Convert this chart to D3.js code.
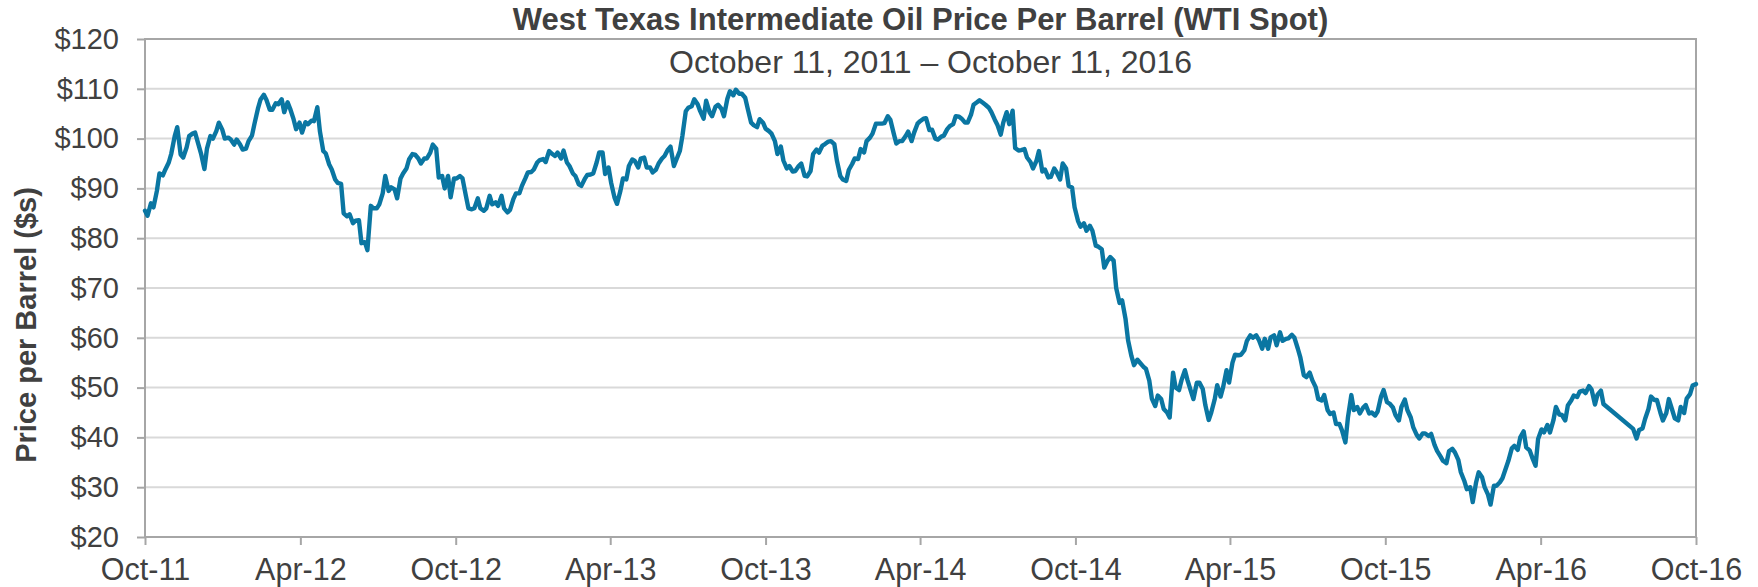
<!DOCTYPE html>
<html>
<head>
<meta charset="utf-8">
<script src="https://cdn.jsdelivr.net/npm/d3@7"></script>
<style>
  body { margin: 0; background: #fff; }
  text { font-family: "Liberation Sans", Arial, sans-serif; fill: #404040; }
</style>
</head>
<body>
<div class="wti_chart"></div>
<script>
// WTI spot price: one value for each Tuesday and one for the Friday after it.
// null = no quote in the source (summer 2016 gap is drawn straight across)
var weekStarts = [
  "2011-10-11","2011-10-18","2011-10-25","2011-11-01","2011-11-08","2011-11-15","2011-11-22","2011-11-29","2011-12-06","2011-12-13","2011-12-20","2011-12-27",
  "2012-01-03","2012-01-10","2012-01-17","2012-01-24","2012-01-31","2012-02-07","2012-02-14","2012-02-21","2012-02-28","2012-03-06","2012-03-13","2012-03-20","2012-03-27",
  "2012-04-03","2012-04-10","2012-04-17","2012-04-24","2012-05-01","2012-05-08","2012-05-15","2012-05-22","2012-05-29","2012-06-05","2012-06-12","2012-06-19","2012-06-26",
  "2012-07-03","2012-07-10","2012-07-17","2012-07-24","2012-07-31","2012-08-07","2012-08-14","2012-08-21","2012-08-28","2012-09-04","2012-09-11","2012-09-18","2012-09-25",
  "2012-10-02","2012-10-09","2012-10-16","2012-10-23","2012-10-30","2012-11-06","2012-11-13","2012-11-20","2012-11-27","2012-12-04","2012-12-11","2012-12-18","2012-12-25",
  "2013-01-01","2013-01-08","2013-01-15","2013-01-22","2013-01-29","2013-02-05","2013-02-12","2013-02-19","2013-02-26","2013-03-05","2013-03-12","2013-03-19","2013-03-26",
  "2013-04-02","2013-04-09","2013-04-16","2013-04-23","2013-04-30","2013-05-07","2013-05-14","2013-05-21","2013-05-28","2013-06-04","2013-06-11","2013-06-18","2013-06-25",
  "2013-07-02","2013-07-09","2013-07-16","2013-07-23","2013-07-30","2013-08-06","2013-08-13","2013-08-20","2013-08-27","2013-09-03","2013-09-10","2013-09-17","2013-09-24",
  "2013-10-01","2013-10-08","2013-10-15","2013-10-22","2013-10-29","2013-11-05","2013-11-12","2013-11-19","2013-11-26","2013-12-03","2013-12-10","2013-12-17","2013-12-24","2013-12-31",
  "2014-01-07","2014-01-14","2014-01-21","2014-01-28","2014-02-04","2014-02-11","2014-02-18","2014-02-25","2014-03-04","2014-03-11","2014-03-18","2014-03-25",
  "2014-04-01","2014-04-08","2014-04-15","2014-04-22","2014-04-29","2014-05-06","2014-05-13","2014-05-20","2014-05-27","2014-06-03","2014-06-10","2014-06-17","2014-06-24",
  "2014-07-01","2014-07-08","2014-07-15","2014-07-22","2014-07-29","2014-08-05","2014-08-12","2014-08-19","2014-08-26","2014-09-02","2014-09-09","2014-09-16","2014-09-23","2014-09-30",
  "2014-10-07","2014-10-14","2014-10-21","2014-10-28","2014-11-04","2014-11-11","2014-11-18","2014-11-25","2014-12-02","2014-12-09","2014-12-16","2014-12-23","2014-12-30",
  "2015-01-06","2015-01-13","2015-01-20","2015-01-27","2015-02-03","2015-02-10","2015-02-17","2015-02-24","2015-03-03","2015-03-10","2015-03-17","2015-03-24","2015-03-31",
  "2015-04-07","2015-04-14","2015-04-21","2015-04-28","2015-05-05","2015-05-12","2015-05-19","2015-05-26","2015-06-02","2015-06-09","2015-06-16","2015-06-23","2015-06-30",
  "2015-07-07","2015-07-14","2015-07-21","2015-07-28","2015-08-04","2015-08-11","2015-08-18","2015-08-25","2015-09-01","2015-09-08","2015-09-15","2015-09-22","2015-09-29",
  "2015-10-06","2015-10-13","2015-10-20","2015-10-27","2015-11-03","2015-11-10","2015-11-17","2015-11-24","2015-12-01","2015-12-08","2015-12-15","2015-12-22","2015-12-29",
  "2016-01-05","2016-01-12","2016-01-19","2016-01-26","2016-02-02","2016-02-09","2016-02-16","2016-02-23","2016-03-01","2016-03-08","2016-03-15","2016-03-22","2016-03-29",
  "2016-04-05","2016-04-12","2016-04-19","2016-04-26","2016-05-03","2016-05-10","2016-05-17","2016-05-24","2016-05-31","2016-06-07","2016-06-14","2016-06-21","2016-06-28",
  "2016-07-05","2016-07-12","2016-07-19","2016-07-26","2016-08-02","2016-08-09","2016-08-16","2016-08-23","2016-08-30","2016-09-06","2016-09-13","2016-09-20","2016-09-27",
  "2016-10-04","2016-10-11"
];
var tueClose = [
  85.5,87.0,89.5,92.6,95.2,100.5,96.8,98.2,101.0,98.8,93.9,100.5,
  101.5,101.8,100.2,98.8,98.8,98.0,100.6,106.0,108.8,105.8,107.1,107.9,107.3,
  103.9,103.2,103.3,103.6,106.3,97.5,94.8,91.8,90.9,84.4,83.0,83.6,79.2,
  86.5,86.0,89.0,89.5,89.8,92.0,94.0,96.9,96.0,96.0,97.2,98.0,92.5,
  92.5,92.0,92.5,88.5,85.8,88.0,85.5,88.5,87.2,88.5,85.2,87.9,89.0,
  92.0,93.3,95.2,95.9,97.5,96.5,96.0,95.2,93.0,90.8,91.9,92.8,95.2,
  97.2,94.2,88.2,89.5,91.8,95.8,94.2,96.2,94.2,93.8,96.0,97.8,94.5,
  97.5,105.5,106.5,106.9,104.0,105.3,106.4,106.0,108.0,108.7,109.0,108.2,103.2,
  102.3,103.2,101.5,99.5,98.4,94.0,93.4,94.5,92.5,93.5,97.8,98.6,99.4,98.9,
  92.5,91.5,94.9,95.9,97.2,100.2,103.0,103.0,104.5,101.0,99.5,100.5,
  99.5,103.0,104.0,101.7,100.0,100.4,101.9,102.9,104.4,103.2,104.8,107.3,107.2,
  106.2,103.8,100.8,105.3,105.6,97.6,97.9,95.3,95.5,93.4,92.2,94.0,91.8,94.0,
  90.2,83.5,83.0,82.5,78.5,77.8,75.5,75.5,67.0,63.8,56.3,55.6,54.2,
  51.4,46.3,47.7,45.0,53.0,49.5,53.5,49.3,51.0,49.7,43.5,47.6,48.2,
  53.5,55.0,56.5,57.5,60.5,60.5,57.8,57.8,60.5,61.1,59.8,60.6,57.8,
  52.5,53.0,50.1,47.4,45.5,45.0,42.7,39.0,48.5,46.1,46.0,44.8,44.4,
  48.2,47.1,46.0,43.4,47.6,44.0,40.5,40.8,40.3,38.5,36.2,34.8,37.7,
  35.5,31.3,30.0,31.0,32.0,28.5,30.3,31.0,33.8,37.8,37.5,41.2,37.4,
  34.3,41.6,42.5,43.4,44.6,43.4,47.4,48.1,49.4,50.3,46.6,49.4,null,
  null,null,null,null,39.8,41.8,45.7,47.5,45.0,44.9,45.5,43.4,44.9,
  48.7,50.7
];
var friClose = [
  84.5,86.2,93.0,93.8,97.0,102.3,96.2,100.5,101.2,97.0,98.0,100.0,
  103.2,100.0,99.8,99.8,97.8,99.5,103.0,107.8,107.8,105.8,106.9,105.3,106.0,
  101.9,101.2,102.9,103.5,101.5,97.0,93.8,91.1,85.0,84.8,83.5,79.0,77.6,
  86.0,86.8,92.5,90.2,88.0,93.0,95.8,96.8,95.0,96.0,98.8,92.2,90.0,
  88.2,92.0,92.0,86.0,86.0,86.0,86.0,86.8,86.5,86.0,85.7,89.0,90.5,
  93.2,93.8,95.7,95.3,97.0,97.2,97.6,94.5,92.5,90.5,92.7,93.0,97.2,
  92.9,91.2,86.9,92.0,94.5,95.5,96.0,94.2,93.2,95.0,96.5,98.4,95.8,
  100.5,106.2,107.9,105.5,107.6,104.5,106.8,104.5,109.5,109.8,109.0,106.0,102.7,
  103.9,102.0,101.0,96.9,95.6,94.5,93.5,95.0,92.4,96.9,97.2,98.9,99.5,95.6,
  91.8,93.7,96.0,97.9,99.5,101.0,103.0,103.1,103.8,99.0,99.5,101.4,
  101.2,103.5,104.1,101.8,99.8,100.6,102.5,104.5,104.0,103.2,106.8,107.7,106.8,
  105.3,102.8,103.2,102.9,98.1,97.7,96.2,94.0,97.5,93.8,92.3,93.2,95.0,90.5,
  86.2,82.3,81.5,81.5,78.3,74.1,76.2,70.0,67.5,59.5,54.5,55.0,53.8,
  47.8,48.4,45.7,44.0,50.0,51.5,51.5,47.7,51.0,46.5,45.0,50.5,50.1,
  51.0,56.6,56.6,59.4,60.0,59.6,59.8,60.1,58.5,59.4,59.9,60.0,56.0,
  52.1,51.5,47.7,48.5,44.7,42.7,41.4,44.0,45.5,44.8,46.5,45.0,45.2,
  49.5,46.8,44.5,46.1,45.5,42.0,39.8,40.8,40.7,37.3,35.3,37.2,37.0,
  33.0,29.6,27.0,33.0,30.0,26.5,30.3,31.8,35.3,38.3,40.0,38.0,36.0,
  39.7,41.0,41.0,46.1,44.5,46.4,48.4,49.2,48.9,49.6,48.6,46.7,null,
  null,null,null,41.7,41.5,43.7,48.2,47.5,43.4,47.7,43.8,46.1,47.8,
  50.4,null
];

var yTicks = [20, 30, 40, 50, 60, 70, 80, 90, 100, 110, 120];
var xTicks = ["2011-10-11","2012-04-11","2012-10-11","2013-04-11","2013-10-11","2014-04-11",
              "2014-10-11","2015-04-11","2015-10-11","2016-04-11","2016-10-11"];

var title = "West Texas Intermediate Oil Price Per Barrel (WTI Spot)";
var subtitle = "October 11, 2011 \u2013 October 11, 2016";
var yTitle = "Price per Barrel ($s)";

var width = 1758, height = 587;
var margin = {left: 145, right: 62, top: 39, bottom: 50};
var innerW = width - margin.left - margin.right;
var innerH = height - margin.top - margin.bottom;

var parse = d3.timeParse("%Y-%m-%d");

// interleave tuesday / friday quotes, skip the missing ones
var data = [];
weekStarts.forEach(function(d, i) {
  var tue = parse(d);
  if (tueClose[i] != null) data.push({date: tue, price: tueClose[i]});
  if (friClose[i] != null) data.push({date: d3.timeDay.offset(tue, 3), price: friClose[i]});
});

var svg = d3.select(".wti_chart").append("svg")
  .attr("width", width)
  .attr("height", height);

var x = d3.scaleTime()
  .domain([parse(xTicks[0]), parse(xTicks[xTicks.length - 1])])
  .range([0, innerW]);
var y = d3.scaleLinear()
  .domain([20, 120])
  .range([innerH, 0]);

var g = svg.append("g").attr("transform", "translate(" + margin.left + "," + margin.top + ")");

// horizontal gridlines
g.selectAll(".grid").data(yTicks.slice(1, -1)).enter().append("line")
  .attr("x1", 0).attr("x2", innerW)
  .attr("y1", function(d) { return y(d); })
  .attr("y2", function(d) { return y(d); })
  .attr("stroke", "#d9d9d9")
  .attr("stroke-width", 2);

// plot border
g.append("rect")
  .attr("width", innerW).attr("height", innerH)
  .attr("fill", "none")
  .attr("stroke", "#a6a6a6")
  .attr("stroke-width", 2);

var yAxis = g.append("g")
  .call(d3.axisLeft(y).tickValues(yTicks).tickSize(8).tickPadding(18)
    .tickFormat(function(d) { return "$" + d; }));
var xAxis = g.append("g")
  .attr("transform", "translate(0," + innerH + ")")
  .call(d3.axisBottom(x).tickValues(xTicks.map(parse)).tickSize(8).tickPadding(13)
    .tickFormat(d3.timeFormat("%b-%y")));

[yAxis, xAxis].forEach(function(ax) {
  ax.select(".domain").remove();
  ax.selectAll(".tick line").attr("stroke", "#a6a6a6").attr("stroke-width", 2);
  ax.selectAll(".tick text")
    .attr("fill", "#404040")
    .style("font-family", "'Liberation Sans', Arial, sans-serif");
});
yAxis.selectAll(".tick text").style("font-size", "29px");
xAxis.selectAll(".tick text").style("font-size", "30.5px");

var line = d3.line()
  .x(function(d) { return x(d.date); })
  .y(function(d) { return y(d.price); });

g.append("path")
  .datum(data)
  .attr("fill", "none")
  .attr("stroke", "#0a76a2")
  .attr("stroke-width", 4.4)
  .attr("stroke-linejoin", "round")
  .attr("stroke-linecap", "round")
  .attr("d", line);

svg.append("text")
  .attr("x", margin.left + innerW / 2)
  .attr("y", 30)
  .attr("text-anchor", "middle")
  .style("font-size", "31px")
  .style("font-weight", "bold")
  .text(title);

svg.append("text")
  .attr("x", margin.left + innerW / 2 + 10)
  .attr("y", 73)
  .attr("text-anchor", "middle")
  .style("font-size", "32px")
  .text(subtitle);

svg.append("text")
  .attr("transform", "translate(36,325) rotate(-90)")
  .attr("text-anchor", "middle")
  .style("font-size", "29px")
  .style("font-weight", "bold")
  .text(yTitle);
</script>
</body>
</html>
